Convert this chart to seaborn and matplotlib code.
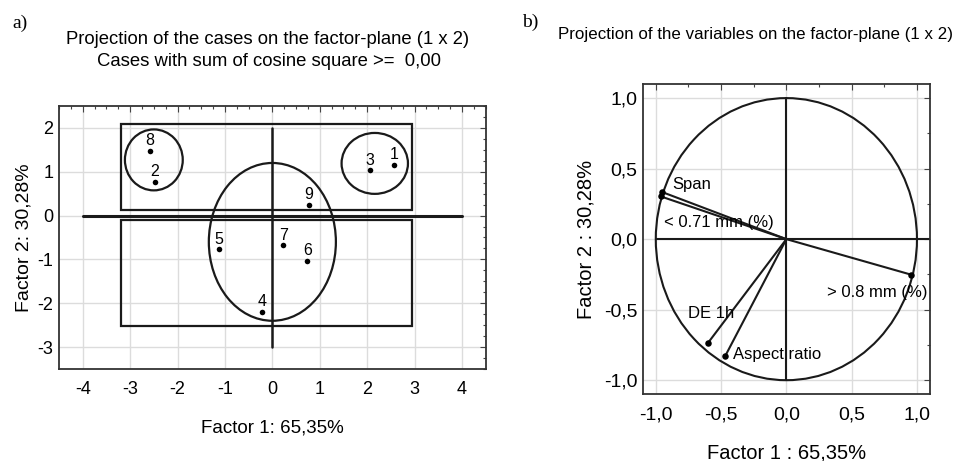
import matplotlib
matplotlib.use("Agg")
import matplotlib.pyplot as plt
from matplotlib import font_manager
from matplotlib.patches import Rectangle, Ellipse, Circle
from matplotlib.ticker import AutoMinorLocator, FuncFormatter, MultipleLocator
import numpy as np
import pandas as pd
import seaborn as sns

# cases (left panel)
case_ids = ["1", "2", "3", "4", "5", "6", "7", "8", "9"]
case_f1 = [2.57, -2.48, 2.05, -0.22, -1.13, 0.74, 0.23, -2.59, 0.77]
case_f2 = [1.15, 0.77, 1.03, -2.19, -0.77, -1.04, -0.68, 1.48, 0.24]

# variables (right panel)
var_names = ["Span", "< 0.71 mm (%)", "> 0.8 mm (%)", "DE 1h", "Aspect ratio"]
var_f1 = [-0.949, -0.962, 0.952, -0.602, -0.469]
var_f2 = [0.333, 0.303, -0.251, -0.738, -0.830]
# label anchors (left edge, vertical centre)
var_lab_x = [-0.87, -0.94, 0.31, -0.75, -0.41]
var_lab_y = [0.385, 0.116, -0.38, -0.53, -0.82]

# group outlines drawn on the cases plot
rects = [(-3.2, 0.12, 6.15, 1.96), (-3.2, -2.52, 6.15, 2.41)]
ellipses = [(-2.50, 1.27, 1.22, 1.39), (2.16, 1.19, 1.40, 1.39), (0.0, -0.60, 2.68, 3.60)]


def pick_font(*names):
    for n in names:
        try:
            font_manager.findfont(n, fallback_to_default=False)
            return n
        except ValueError:
            continue
    return "DejaVu Sans"


sns.set_style("whitegrid")
sans = pick_font("Liberation Sans", "Arial", "DejaVu Sans")
serif = pick_font("Liberation Serif", "DejaVu Serif")
plt.rcParams["font.family"] = [sans, "DejaVu Sans"]
plt.rcParams["axes.unicode_minus"] = False
plt.rcParams["text.color"] = "black"
plt.rcParams["axes.labelcolor"] = "black"
plt.rcParams["xtick.labelcolor"] = "black"
plt.rcParams["ytick.labelcolor"] = "black"

fig = plt.figure(figsize=(9.58, 4.61), dpi=100)
ax1 = fig.add_axes([0.0616, 0.1996, 0.4454, 0.5705])
ax2 = fig.add_axes([0.6709, 0.1447, 0.2999, 0.6731])


def style_axes(ax, minor):
    ax.grid(True, which="major", color="#dcdcdc", linewidth=1.0)
    ax.set_axisbelow(True)
    for s in ax.spines.values():
        s.set_color("#333333")
        s.set_linewidth(1.3)
    ax.xaxis.set_minor_locator(AutoMinorLocator(minor))
    ax.yaxis.set_minor_locator(AutoMinorLocator(minor))
    ax.tick_params(which="both", direction="in", top=True, right=True,
                   color="#444444", width=0.8)
    ax.tick_params(which="major", length=4)
    ax.tick_params(which="minor", length=2)


# ---- left: cases ----
cases = pd.DataFrame({"id": case_ids, "f1": case_f1, "f2": case_f2})
sns.scatterplot(data=cases, x="f1", y="f2", ax=ax1, color="black", s=16,
                edgecolor="black", linewidth=0, zorder=5)
for _, r in cases.iterrows():
    ax1.annotate(r["id"], (r["f1"], r["f2"]), xytext=(0, 2), textcoords="offset points",
                 ha="center", va="bottom", fontsize=11.5)
for x, y, w, h in rects:
    ax1.add_patch(Rectangle((x, y), w, h, fill=False, edgecolor="#1a1a1a", linewidth=1.6))
for x, y, w, h in ellipses:
    ax1.add_patch(Ellipse((x, y), w, h, fill=False, edgecolor="#1a1a1a", linewidth=1.6))
ax1.plot([-4, 4], [0, 0], color="#1a1a1a", linewidth=2.2)
ax1.plot([0, 0], [-3, 2], color="#1a1a1a", linewidth=1.8)

ax1.set_xlim(-4.5, 4.5)
ax1.set_ylim(-3.5, 2.5)
ax1.xaxis.set_major_locator(MultipleLocator(1))
ax1.yaxis.set_major_locator(MultipleLocator(1))
style_axes(ax1, 4)
ax1.tick_params(axis="x", which="major", labelsize=13, pad=9)
ax1.tick_params(axis="y", which="major", labelsize=13, pad=4)
ax1.set_xlabel("Factor 1: 65,35%", fontsize=13.5, labelpad=15)
ax1.set_ylabel("Factor 2: 30,28%", fontsize=14, labelpad=4)

# ---- right: variables ----
vars_df = pd.DataFrame({"name": var_names, "f1": var_f1, "f2": var_f2})
ax2.add_patch(Circle((0, 0), 1.0, fill=False, edgecolor="#1a1a1a", linewidth=1.5))
ax2.plot([-1, 1.1], [0, 0], color="#1a1a1a", linewidth=1.5)
ax2.plot([0, 0], [-1, 1], color="#1a1a1a", linewidth=1.5)
for _, r in vars_df.iterrows():
    ax2.plot([0, r["f1"]], [0, r["f2"]], color="#1a1a1a", linewidth=1.5)
sns.scatterplot(data=vars_df, x="f1", y="f2", ax=ax2, color="black", s=22,
                linewidth=0, zorder=5)
for name, lx, ly in zip(var_names, var_lab_x, var_lab_y):
    ax2.text(lx, ly, name, ha="left", va="center", fontsize=12)

ax2.set_xlim(-1.1, 1.1)
ax2.set_ylim(-1.1, 1.1)
ax2.xaxis.set_major_locator(MultipleLocator(0.5))
ax2.yaxis.set_major_locator(MultipleLocator(0.5))
comma = FuncFormatter(lambda v, p: f"{v:.1f}".replace(".", ","))
ax2.xaxis.set_major_formatter(comma)
ax2.yaxis.set_major_formatter(comma)
style_axes(ax2, 2)
ax2.tick_params(axis="x", which="major", labelsize=14, pad=9)
ax2.tick_params(axis="y", which="major", labelsize=14, pad=4)
ax2.set_xlabel("Factor 1 : 65,35%", fontsize=14.5, labelpad=14)
ax2.set_ylabel("Factor 2 : 30,28%", fontsize=14.5, labelpad=6)

# ---- titles ----
fig.text(268 / 958, 1 - 39 / 461, "Projection of the cases on the factor-plane (1 x 2)",
         ha="center", va="center", fontsize=13.3)
fig.text(269 / 958, 1 - 61 / 461, "Cases with sum of cosine square >=  0,00",
         ha="center", va="center", fontsize=13.3)
fig.text(755 / 958, 1 - 34 / 461, "Projection of the variables on the factor-plane (1 x 2)",
         ha="center", va="center", fontsize=12.2)
fig.text(12 / 958, 1 - 23 / 461, "a)", ha="left", va="center", fontsize=14, family=serif)
fig.text(522 / 958, 1 - 22 / 461, "b)", ha="left", va="center", fontsize=14, family=serif)

fig.savefig("out.png", dpi=100)
plt.close(fig)
